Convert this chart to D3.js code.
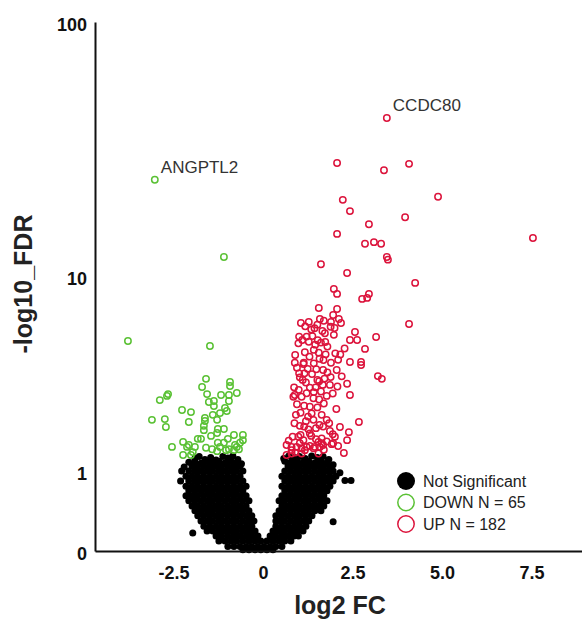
<!DOCTYPE html>
<html>
<head>
<meta charset="utf-8">
<script src="https://cdn.jsdelivr.net/npm/d3@7"></script>
<style>
  body { margin: 0; background: #fff; }
  svg { display: block; font-family: "Liberation Sans", Arial, sans-serif; }
</style>
</head>
<body>
<div id="chart"></div>
<script>

// axis ticks
var xTicks = [-2.5, 0, 2.5, 5, 7.5];
var yTicks = [0, 1, 10, 100];

// legend text
var legendLabels = ["Not Significant", "DOWN N = 65", "UP N = 182"];

// named genes: [name, log2FC, -log10 FDR]
var callouts = [["ANGPTL2", -3.02, 24.5], ["CCDC80", 3.46, 42.7]];

// significant down, [log2FC, -log10 FDR]
var downGenes = [
  [-3.02,24.5],[-1.09,12.0],[-3.77,5.25],[-1.48,4.98],[-1.59,3.49],[-0.92,3.37],[-0.92,3.22],[-1.70,3.18],
  [-1.56,2.93],[-2.65,2.93],[-2.68,2.87],[-2.88,2.73],[-1.17,2.90],[-0.95,2.90],[-0.73,2.97],[-1.51,2.67],
  [-1.37,2.70],[-1.37,2.54],[-0.95,2.70],[-2.26,2.42],[-2.01,2.36],[-1.06,2.48],[-1.01,2.39],[-1.20,2.33],
  [-1.40,2.28],[-3.10,2.14],[-2.74,2.16],[-2.71,1.95],[-2.07,2.08],[-1.62,2.19],[-1.62,2.11],[-1.28,2.14],
  [-1.65,1.98],[-1.65,1.87],[-1.26,1.90],[-1.09,1.90],[-1.28,1.80],[-1.82,1.66],[-0.81,1.75],[-0.56,1.75],
  [-0.56,1.63],[-2.23,1.59],[-2.07,1.52],[-2.12,1.48],[-1.90,1.48],[-2.54,1.48],[-1.59,1.46],[-1.42,1.43],
  [-1.26,1.57],[-1.20,1.48],[-1.09,1.57],[-0.95,1.43],[-0.78,1.52],[-0.73,1.48],[-0.81,1.41],[-0.67,1.43],
  [-2.23,1.31],[-2.01,1.31],[-1.28,1.39],[-1.73,1.66],[-1.96,1.37],[-1.03,1.41],[-1.45,1.73],[-0.64,1.57],
  [-0.98,1.66]
];

// significant up
var upGenes = [
  [3.46,42.7],[2.07,28.5],[3.38,26.7],[4.08,28.3],[4.89,21.0],[2.23,20.4],[2.43,18.4],[3.97,17.4],
  [2.96,16.3],[7.54,14.35],[2.07,14.9],[2.85,13.6],[3.10,13.8],[3.30,13.6],[3.46,12.0],[3.49,11.7],
  [1.62,11.2],[2.35,10.3],[4.25,9.37],[1.98,8.84],[2.07,8.42],[2.77,8.02],[2.91,8.1],[2.96,8.42],
  [1.56,7.33],[2.07,7.26],[1.96,6.84],[4.08,6.25],[1.06,6.31],[1.28,6.38],[1.59,6.57],[1.90,6.38],
  [2.12,6.57],[2.18,6.31],[2.57,5.76],[2.43,5.30],[2.63,5.30],[2.85,4.83],[3.16,5.47],[3.21,3.60],
  [3.32,3.49],[2.74,4.20],[2.74,4.07],[2.43,4.20],[2.43,2.90],[2.68,2.08],[2.40,1.82],[2.35,1.63],
  [2.26,1.35],
  [1.44,5.98],[1.66,5.82],[1.89,6.07],[1.73,5.68],[1.01,5.49],[1.22,5.49],[1.28,5.21],[1.38,5.52],
  [1.53,5.29],[1.62,5.16],[1.74,5.19],[1.98,5.59],[0.99,5.12],[1.42,4.78],[1.56,4.64],[1.75,4.56],
  [2.02,4.61],[2.16,4.55],[1.17,4.66],[0.90,4.53],[1.69,4.29],[1.90,4.17],[0.89,4.17],[1.14,4.17],
  [1.13,4.11],[1.42,4.14],[1.49,3.88],[1.68,3.85],[2.06,3.85],[2.20,3.59],[1.89,3.56],[1.01,3.71],
  [1.16,3.71],[1.03,3.55],[1.11,3.45],[1.37,3.68],[1.52,3.45],[1.72,3.50],[1.57,3.40],[0.87,3.17],
  [1.00,3.08],[1.31,3.16],[1.47,3.17],[1.67,3.26],[1.87,3.26],[2.08,3.20],[0.85,2.84],[0.89,2.90],
  [1.08,2.84],[1.22,2.96],[1.41,2.79],[1.57,2.75],[1.78,2.87],[1.05,2.34],[0.92,2.28],[1.31,2.52],
  [1.36,2.32],[1.26,2.23],[1.41,2.14],[1.64,2.28],[1.78,2.14],[1.85,2.05],[1.03,1.98],[1.15,1.96],
  [1.27,1.89],[1.31,1.79],[1.48,1.92],[1.68,1.96],[1.87,1.85],[2.01,1.71],[0.83,1.71],[0.99,1.71],
  [1.13,1.63],[1.35,1.73],[1.48,1.65],[1.64,1.56],[1.78,1.60],[1.96,1.56],[0.66,1.52],[0.80,1.48],
  [0.94,1.48],[1.08,1.45],[1.22,1.48],[1.41,1.45],[1.59,1.48],
  [0.80,1.41],[1.17,1.41],[1.31,1.50],[1.55,1.59],[1.64,1.67],[1.95,1.77],[1.03,1.56],[1.45,1.48],
  [1.55,1.34],[1.68,1.52],[1.92,1.54],[0.66,1.31],[0.80,1.34],[1.08,1.34],
  [1.18,6.1],[1.35,5.9],[1.52,6.2],[1.70,6.45],[2.00,6.0],[1.10,5.3],[1.46,5.05],[1.80,4.95],
  [2.28,4.85],[1.30,4.45],[1.58,4.35],[2.10,4.3],[0.95,3.95],[1.25,3.9],[1.80,3.75],[2.35,3.3],
  [1.20,3.35],[1.42,3.0],[1.62,3.02],[1.95,2.95],[0.95,2.6],[1.15,2.55],[1.52,2.5],[1.70,2.62],
  [2.05,2.45],[0.88,2.05],[1.20,2.1],[1.58,2.0],[2.15,1.95],[0.72,1.62],[1.70,1.42],[1.05,1.75],
  [2.10,1.5],[0.90,1.36]
];

// not significant
var notSig = [
  [-1.90,1.24],[-1.78,1.28],[-1.62,1.22],[-1.46,1.26],[-1.31,1.21],[-1.12,1.28],[-0.98,1.25],[-0.84,1.29],[-0.70,1.22],
  [0.58,1.24],[0.72,1.29],[0.87,1.26],[1.02,1.28],[1.18,1.24],[1.36,1.29],[1.52,1.26],[1.68,1.28],[1.84,1.22],
  [-2.07,1.17],[-1.90,1.19],[-1.73,1.15],[-1.56,1.19],[-1.40,1.17],[-1.23,1.19],[-1.06,1.16],[-0.89,1.19],[-0.73,1.17],[-0.60,1.14],
  [0.61,1.19],[0.78,1.17],[0.95,1.19],[1.12,1.17],[1.28,1.19],[1.45,1.16],[1.62,1.19],[1.79,1.17],[1.96,1.12],
  [-2.20,1.08],[-1.98,1.10],[-1.82,1.10],[-1.65,1.10],[-1.48,1.10],[-1.31,1.10],[-1.15,1.10],[-0.98,1.10],[-0.81,1.10],[-0.64,1.10],
  [0.70,1.10],[0.87,1.10],[1.03,1.10],[1.20,1.10],[1.37,1.10],[1.54,1.10],[1.70,1.10],[1.87,1.10],
  [-2.27,1.01],[-2.07,1.01],[-1.90,1.01],[-1.73,1.01],[-1.56,1.01],[-1.40,1.01],[-1.23,1.01],[-1.06,1.01],[-0.89,1.01],[-0.73,1.01],[-0.56,1.01],
  [0.61,1.01],[0.78,1.01],[0.95,1.01],[1.12,1.01],[1.28,1.01],[1.45,1.01],[1.62,1.01],[1.79,1.01],[1.96,1.01],[2.15,0.98],
  [-2.15,0.92],[-1.98,0.92],[-1.82,0.92],[-1.65,0.92],[-1.48,0.92],[-1.31,0.92],[-1.15,0.92],[-0.98,0.92],[-0.81,0.92],[-0.64,0.92],
  [0.53,0.92],[0.70,0.92],[0.87,0.92],[1.03,0.92],[1.20,0.92],[1.37,0.92],[1.54,0.92],[1.70,0.92],[1.87,0.92],[2.04,0.92],
  [-2.30,0.84],[-2.07,0.84],[-1.90,0.84],[-1.73,0.84],[-1.56,0.84],[-1.40,0.84],[-1.23,0.84],[-1.06,0.84],[-0.89,0.84],[-0.73,0.84],[-0.56,0.84],
  [0.61,0.84],[0.78,0.84],[0.95,0.84],[1.12,0.84],[1.28,0.84],[1.45,0.84],[1.62,0.84],[1.79,0.84],[1.96,0.84],[2.29,0.85],[2.46,0.85],
  [-2.15,0.76],[-1.98,0.76],[-1.82,0.76],[-1.65,0.76],[-1.48,0.76],[-1.31,0.76],[-1.15,0.76],[-0.98,0.76],[-0.81,0.76],[-0.64,0.76],[-0.47,0.76],
  [0.53,0.76],[0.70,0.76],[0.87,0.76],[1.03,0.76],[1.20,0.76],[1.37,0.76],[1.54,0.76],[1.70,0.76],[1.87,0.76],
  [-2.07,0.69],[-1.90,0.69],[-1.73,0.69],[-1.56,0.69],[-1.40,0.69],[-1.23,0.69],[-1.06,0.69],[-0.89,0.69],[-0.73,0.69],[-0.56,0.69],
  [0.61,0.69],[0.78,0.69],[0.95,0.69],[1.12,0.69],[1.28,0.69],[1.45,0.69],[1.62,0.69],[1.79,0.69],
  [-2.15,0.62],[-1.98,0.62],[-1.82,0.62],[-1.65,0.62],[-1.48,0.62],[-1.31,0.62],[-1.15,0.62],[-0.98,0.62],[-0.81,0.62],[-0.64,0.62],[-0.47,0.62],
  [0.53,0.62],[0.70,0.62],[0.87,0.62],[1.03,0.62],[1.20,0.62],[1.37,0.62],[1.54,0.62],[1.70,0.62],
  [-2.07,0.55],[-1.90,0.55],[-1.73,0.55],[-1.56,0.55],[-1.40,0.55],[-1.23,0.55],[-1.06,0.55],[-0.89,0.55],[-0.73,0.55],[-0.56,0.55],[-0.39,0.55],
  [0.45,0.55],[0.61,0.55],[0.78,0.55],[0.95,0.55],[1.12,0.55],[1.28,0.55],[1.45,0.55],[1.62,0.55],[1.79,0.55],
  [-1.98,0.48],[-1.82,0.48],[-1.65,0.48],[-1.48,0.48],[-1.31,0.48],[-1.15,0.48],[-0.98,0.48],[-0.81,0.48],[-0.64,0.48],[-0.47,0.48],
  [0.53,0.48],[0.70,0.48],[0.87,0.48],[1.03,0.48],[1.20,0.48],[1.37,0.48],[1.54,0.48],[1.70,0.48],
  [-1.90,0.42],[-1.73,0.42],[-1.56,0.42],[-1.40,0.42],[-1.23,0.42],[-1.06,0.42],[-0.89,0.42],[-0.73,0.42],[-0.56,0.42],[-0.39,0.42],
  [0.45,0.42],[0.61,0.42],[0.78,0.42],[0.95,0.42],[1.12,0.42],[1.28,0.42],[1.45,0.42],[1.62,0.42],
  [-1.82,0.36],[-1.65,0.36],[-1.48,0.36],[-1.31,0.36],[-1.15,0.36],[-0.98,0.36],[-0.81,0.36],[-0.64,0.36],[-0.47,0.36],[-0.31,0.36],
  [0.36,0.36],[0.53,0.36],[0.70,0.36],[0.87,0.36],[1.03,0.36],[1.20,0.36],[1.37,0.36],
  [-1.73,0.30],[-1.56,0.30],[-1.40,0.30],[-1.23,0.30],[-1.06,0.30],[-0.89,0.30],[-0.73,0.30],[-0.56,0.30],[-0.39,0.30],[-0.25,0.30],
  [0.36,0.30],[0.45,0.30],[0.61,0.30],[0.78,0.30],[0.95,0.30],[1.12,0.30],[1.28,0.30],[1.96,0.29],
  [-1.65,0.24],[-1.48,0.24],[-1.31,0.24],[-1.15,0.24],[-0.98,0.24],[-0.81,0.24],[-0.64,0.24],[-0.47,0.24],[-0.31,0.24],
  [0.36,0.24],[0.53,0.24],[0.70,0.24],[0.87,0.24],[1.03,0.24],[1.20,0.24],
  [-1.56,0.19],[-1.40,0.19],[-1.23,0.19],[-1.06,0.19],[-0.89,0.19],[-0.73,0.19],[-0.56,0.19],[-0.39,0.19],[-0.22,0.19],
  [0.28,0.19],[0.45,0.19],[0.61,0.19],[0.78,0.19],[0.95,0.19],[1.12,0.19],[-1.96,0.17],
  [-1.31,0.14],[-1.15,0.14],[-0.98,0.14],[-0.81,0.14],[-0.64,0.14],[-0.47,0.14],[-0.31,0.14],[-0.14,0.14],
  [0.20,0.14],[0.36,0.14],[0.53,0.14],[0.70,0.14],[0.87,0.14],[0.99,0.14],
  [-1.23,0.09],[-1.06,0.09],[-0.89,0.09],[-0.73,0.09],[-0.56,0.09],[-0.39,0.09],[-0.22,0.09],[-0.06,0.09],
  [0.11,0.09],[0.28,0.09],[0.45,0.09],[0.61,0.09],[0.78,0.09],
  [-0.98,0.04],[-0.81,0.04],[-0.64,0.04],[-0.47,0.04],[-0.31,0.04],[-0.14,0.04],
  [0.03,0.04],[0.20,0.04],[0.36,0.04],[0.53,0.04],
  [-0.56,0.01],[-0.39,0.01],[-0.22,0.01],[-0.06,0.01],[0.11,0.01],[0.28,0.01]
];

var W = 582, H = 624;
var green = "#5ac134", red = "#dc143c";

var svg = d3.select("#chart").append("svg").attr("width", W).attr("height", H);

var x = d3.scaleLinear().domain([-4.69, 8.91]).range([95, 582]);
var y = d3.scaleSymlog().constant(1).domain([0, 100]).range([551, 22]);

// points
svg.append("g").selectAll("circle").data(notSig).enter().append("circle")
    .attr("cx", function(d) { return x(d[0]); })
    .attr("cy", function(d) { return y(d[1]); })
    .attr("r", 3.5)
    .attr("fill", "#000");

function openPts(data, col) {
    svg.append("g").selectAll("circle").data(data).enter().append("circle")
        .attr("cx", function(d) { return x(d[0]); })
        .attr("cy", function(d) { return y(d[1]); })
        .attr("r", 3.2)
        .attr("fill", "none")
        .attr("stroke", col)
        .attr("stroke-width", 1.5);
}
openPts(downGenes, green);
openPts(upGenes, red);

// gene labels
svg.append("g").selectAll("text").data(callouts).enter().append("text")
    .attr("x", function(d) { return x(d[1]) + 6; })
    .attr("y", function(d) { return y(d[2]) - 7; })
    .attr("font-size", 17)
    .attr("fill", "#333")
    .text(function(d) { return d[0]; });

// axes
var gx = svg.append("g").attr("transform", "translate(0,551)")
    .call(d3.axisBottom(x).tickValues(xTicks).tickSize(0).tickPadding(15)
        .tickFormat(function(d) { return d === 0 ? "0" : d.toFixed(1); }));
var gy = svg.append("g").attr("transform", "translate(95,0)")
    .call(d3.axisLeft(y).tickValues(yTicks).tickSize(0).tickPadding(8)
        .tickFormat(d3.format("d")));

[gx, gy].forEach(function(g) {
    g.select(".domain").attr("stroke", "#111").attr("stroke-width", 2);
    g.selectAll("text")
        .attr("font-family", "Liberation Sans, Arial, sans-serif")
        .attr("font-size", 18)
        .attr("font-weight", "bold")
        .attr("fill", "#111");
});
gy.selectAll("text").attr("dy", "0.45em");

// axis titles
svg.append("text")
    .attr("transform", "translate(32,284) rotate(-90)")
    .attr("text-anchor", "middle")
    .attr("font-size", 25)
    .attr("font-weight", "bold")
    .attr("fill", "#222")
    .text("-log10_FDR");

svg.append("text")
    .attr("x", 340)
    .attr("y", 614)
    .attr("text-anchor", "middle")
    .attr("font-size", 25)
    .attr("font-weight", "bold")
    .attr("fill", "#222")
    .text("log2 FC");

// legend
var leg = svg.append("g").attr("transform", "translate(406,481)");
legendLabels.forEach(function(lab, i) {
    var c = leg.append("circle").attr("cx", 0).attr("cy", i * 21.5).attr("r", i === 0 ? 9 : 8.2);
    if (i === 0)
        c.attr("fill", "#000");
    else
        c.attr("fill", "none").attr("stroke", i === 1 ? green : red).attr("stroke-width", 1.5);
    leg.append("text")
        .attr("x", 17)
        .attr("y", i * 21.5)
        .attr("dy", "0.36em")
        .attr("font-size", 16)
        .attr("fill", "#222")
        .text(lab);
});

</script>
</body>
</html>
